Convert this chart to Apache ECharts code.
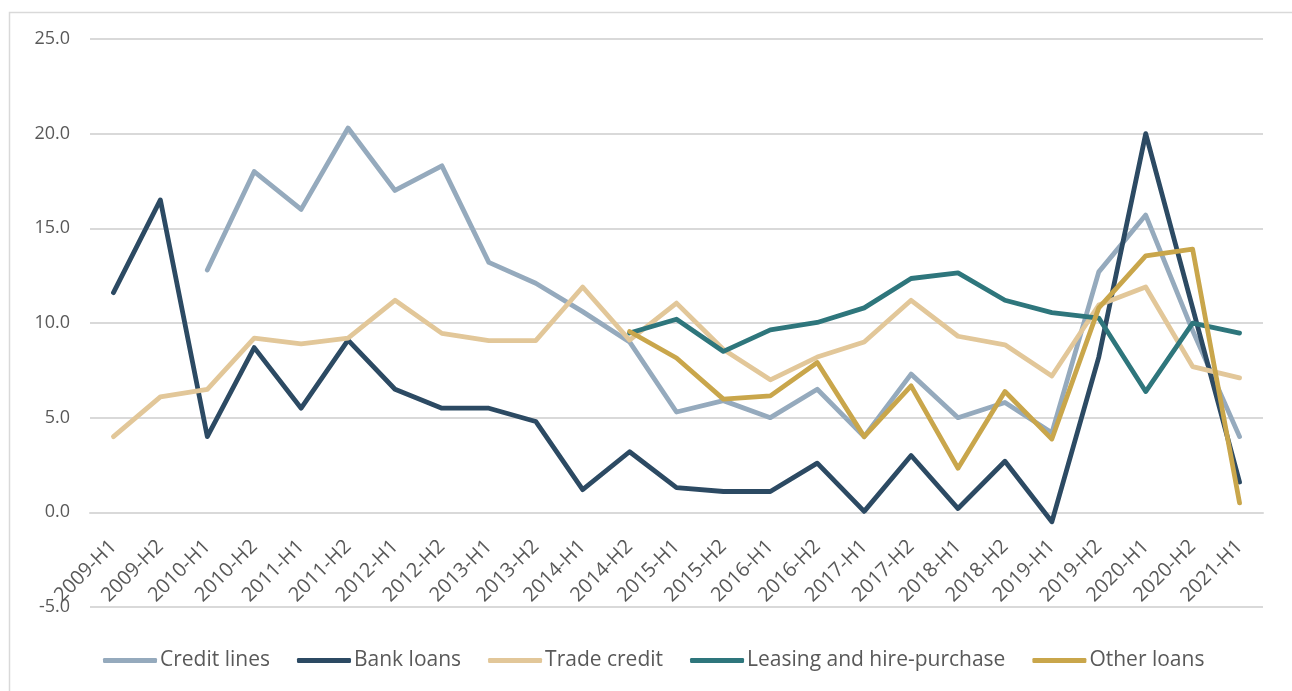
<!DOCTYPE html>
<html>
<head>
<meta charset="utf-8">
<script src="https://cdn.jsdelivr.net/npm/echarts@6/dist/echarts.min.js"></script>
<style>html,body{margin:0;padding:0;background:#fff;}#c{width:1292px;height:691px;}</style>
</head>
<body>
<div id="c"></div>
<script>
const categories = ['2009-H1','2009-H2','2010-H1','2010-H2','2011-H1','2011-H2','2012-H1','2012-H2','2013-H1','2013-H2','2014-H1','2014-H2','2015-H1','2015-H2','2016-H1','2016-H2','2017-H1','2017-H2','2018-H1','2018-H2','2019-H1','2019-H2','2020-H1','2020-H2','2021-H1'];
const creditLines = [null,null,12.8,18.0,16.0,20.3,17.0,18.3,13.2,12.1,10.6,9.0,5.3,5.9,5.0,6.5,4.0,7.3,5.0,5.8,4.2,12.7,15.7,9.6,4.0];
const bankLoans = [11.6,16.5,4.0,8.7,5.5,9.1,6.5,5.5,5.5,4.8,1.2,3.2,1.3,1.1,1.1,2.6,0.05,3.0,0.2,2.7,-0.5,8.2,20.0,10.8,1.6];
const tradeCredit = [4.0,6.1,6.5,9.2,8.9,9.2,11.2,9.45,9.07,9.07,11.9,9.1,11.05,8.6,7.0,8.2,9.0,11.2,9.3,8.85,7.2,10.95,11.9,7.7,7.1];
const leasing = [null,null,null,null,null,null,null,null,null,null,null,9.47,10.2,8.5,9.64,10.03,10.8,12.35,12.65,11.2,10.55,10.26,6.38,9.99,9.47];
const otherLoans = [null,null,null,null,null,null,null,null,null,null,null,9.55,8.15,5.98,6.15,7.91,4.0,6.68,2.33,6.38,3.87,10.8,13.55,13.9,0.5];
const yTicks = {min:-5, max:25, interval:5};

const names = ['Credit lines','Bank loans','Trade credit','Leasing and hire-purchase','Other loans'];
const colors = ['#95aabd','#2c4a63','#e2c799','#2e767c','#c9a64b'];
const dataSets = [creditLines, bankLoans, tradeCredit, leasing, otherLoans];

const gridTop = 39, gridHeight = 568;
const zeroOffset = -gridHeight * (0 - yTicks.min) / (yTicks.max - yTicks.min);

const chart = echarts.init(document.getElementById('c'), null, {renderer:'canvas'});
const font = '"Open Sans", "Noto Sans", sans-serif';
chart.setOption({
  animation:false,
  backgroundColor:'#ffffff',
  graphic:[{type:'rect', left:7, top:10, shape:{width:1400, height:800}, style:{fill:'none', stroke:'#d9d9d9', lineWidth:1.5}, silent:true, z:-1}],
  grid:{left:90, right:29, top:gridTop, height:gridHeight, containLabel:false, outerBoundsMode:'none'},
  legend:{
    left:98, top:645,
    icon:'roundRect', itemWidth:54, itemHeight:5, itemGap:27,
    textStyle:{color:'#595959', fontSize:21, fontFamily:font, padding:[0,0,0,-2]},
    data:names
  },
  xAxis:{
    type:'category', data:categories, boundaryGap:true,
    offset:zeroOffset,
    axisLine:{onZero:false, lineStyle:{color:'#d9d9d9', width:2}},
    axisTick:{show:false},
    axisLabel:{rotate:45, interval:0, color:'#595959', fontSize:20, fontFamily:font, margin:31, verticalAlign:'middle', lineHeight:22, padding:[12,0,0,0]}
  },
  yAxis:{
    type:'value', min:yTicks.min, max:yTicks.max, interval:yTicks.interval,
    axisLine:{show:false}, axisTick:{show:false},
    splitLine:{lineStyle:{color:'#d9d9d9', width:2}},
    axisLabel:{color:'#595959', fontSize:18, fontFamily:font, margin:20, formatter:v=>v.toFixed(1)}
  },
  series:names.map((n,i)=>({
    name:n, type:'line', data:dataSets[i], symbol:'none', connectNulls:false,
    lineStyle:{color:colors[i], width:4.8, cap:'round', join:'round'},
    itemStyle:{color:colors[i]}
  }))
});
</script>
</body>
</html>
